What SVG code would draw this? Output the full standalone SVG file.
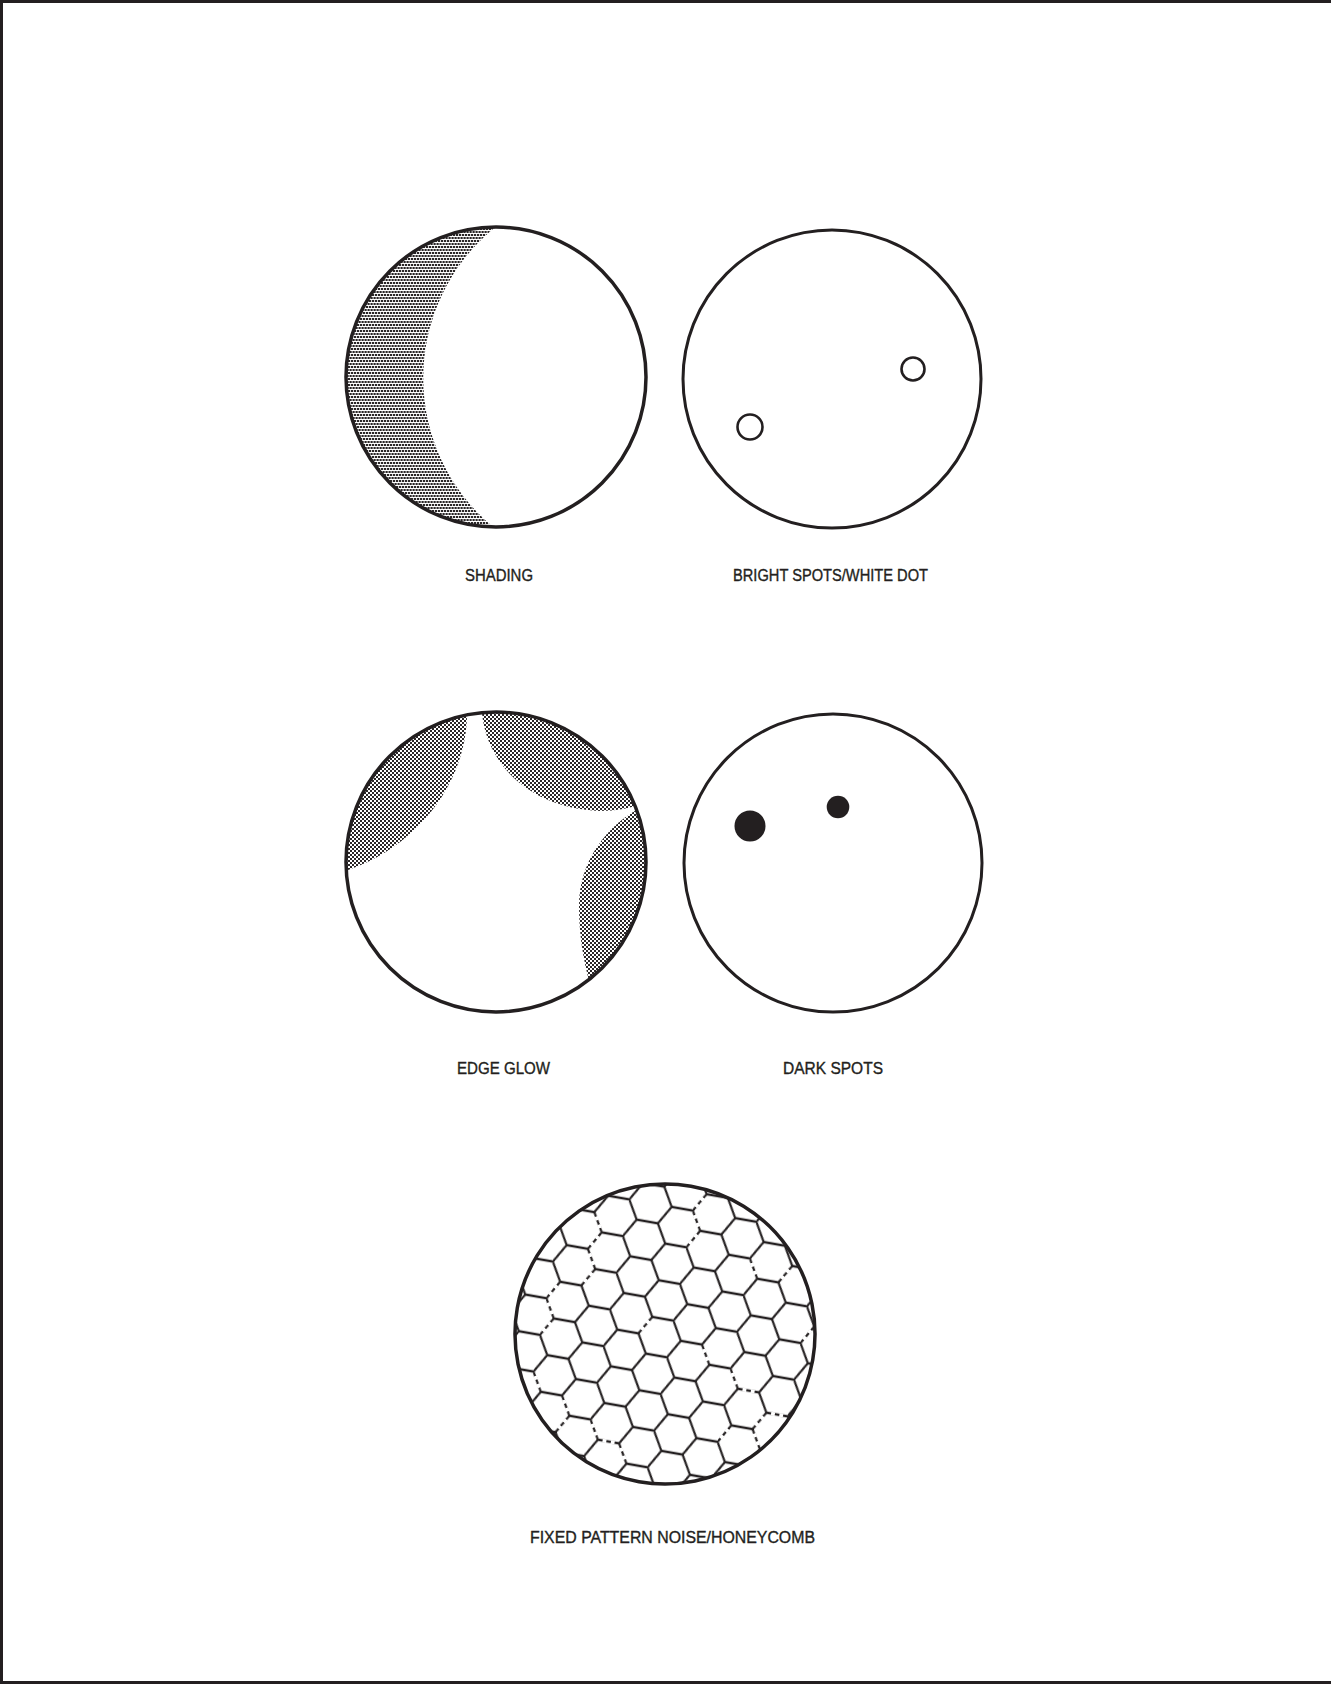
<svg xmlns="http://www.w3.org/2000/svg" width="1331" height="1684" viewBox="0 0 1331 1684">
<style>
.ring{fill:none;stroke:#231f20;stroke-width:3.5}
.spot{fill:none;stroke:#231f20;stroke-width:2.6}
.dark{fill:#231f20}
.lbl{font-family:"Liberation Sans Narrow","Liberation Sans",Arial,sans-serif;font-size:16px;fill:#231f20;stroke:#231f20;stroke-width:0.35}
.frame{stroke:#231f20;stroke-width:3;fill:none}
.dash{fill:none;stroke:#fff;stroke-width:3;stroke-dasharray:0 4 3.2 3.8 3.2 100}
</style>
<defs>
<pattern id="stip1" patternUnits="userSpaceOnUse" width="3" height="6">
<rect x="0" y="0" width="2.2" height="2" fill="#2a2627"/>
<rect x="1.5" y="3" width="2.2" height="2" fill="#2a2627"/>
<rect x="-1.5" y="3" width="2.2" height="2" fill="#2a2627"/>
</pattern>
<pattern id="stip2" patternUnits="userSpaceOnUse" width="4" height="4">
<rect x="0" y="0" width="2" height="2" fill="#2a2627"/>
<rect x="2" y="2" width="2" height="2" fill="#2a2627"/>
</pattern>
<pattern id="hexPat" patternUnits="userSpaceOnUse" width="54" height="31.177">
<path d="M0,15.588 L9,0 L27,0 L36,15.588 L27,31.177 L9,31.177 Z M36,15.588 L54,15.588" fill="none" stroke="#231f20" stroke-width="1.85"/>
</pattern>
<clipPath id="c1"><circle cx="496" cy="377" r="150"/></clipPath>
<clipPath id="c3"><circle cx="496" cy="862" r="150"/></clipPath>
<clipPath id="c5"><circle cx="0" cy="0" r="149.5"/></clipPath>
</defs>
<rect x="0" y="0" width="1331" height="1684" fill="#fff"/>
<g id="frame">
<path class="frame" d="M1.5,1684 L1.5,1.5 L1331,1.5 M0,1682.5 L1331,1682.5"/>
</g>

<g id="shading">
<path d="M493,229 A194 194 0 0 0 493,527 L493,545 L330,545 L330,210 L493,210 Z" fill="url(#stip1)" clip-path="url(#c1)"/>
<circle class="ring" cx="496" cy="377" r="150"/>
<text class="lbl" x="465" y="581" textLength="68" lengthAdjust="spacingAndGlyphs">SHADING</text>
</g>

<g id="bright-spots">
<circle class="ring" cx="832" cy="379" r="149" style="stroke-width:3"/>
<circle class="spot" cx="913" cy="369" r="11.5"/>
<circle class="spot" cx="750" cy="427" r="12.5"/>
<text class="lbl" x="733" y="581" textLength="195" lengthAdjust="spacingAndGlyphs">BRIGHT SPOTS/WHITE DOT</text>
</g>

<g id="edge-glow">
<g clip-path="url(#c3)" fill="url(#stip2)">
<path d="M467,700 L467,713 C467,780 420,845 348,870 L330,872 L330,700 Z"/>
<path d="M482,700 L482,713 C487,765 530,808 600,811 C618,811 632,808 650,801 L665,700 Z"/>
<path d="M650,803 C607,822 579,862 579,905 C579,935 583,958 590,985 L665,1000 L665,800 Z"/>
</g>
<circle class="ring" cx="496" cy="862" r="150"/>
<text class="lbl" x="457" y="1074" textLength="93" lengthAdjust="spacingAndGlyphs">EDGE GLOW</text>
</g>

<g id="dark-spots">
<circle class="ring" cx="833" cy="863" r="149" style="stroke-width:3"/>
<circle class="dark" cx="750" cy="826" r="15.5"/>
<circle class="dark" cx="838" cy="807" r="11.3"/>
<text class="lbl" x="783" y="1074" textLength="100" lengthAdjust="spacingAndGlyphs">DARK SPOTS</text>
</g>

<g id="honeycomb">
<g transform="translate(665,1334) rotate(10)">
<g clip-path="url(#c5)">
<g transform="translate(6,4) scale(1.1944)">
<rect x="-140" y="-140" width="280" height="280" fill="url(#hexPat)"/>
<path class="dash" d="M-81,-93.53 L-72,-77.94 M-72,-77.94 L-81,-62.35 M-81,-62.35 L-72,-46.77 M-72,-46.77 L-81,-31.18 M-81,62.35 L-72,77.94 M-72,77.94 L-81,93.53 M-54,77.94 L-45,93.53 M-45,93.53 L-27,93.53 M-27,93.53 L-18,109.12 M9,-124.71 L0,-109.12 M0,-109.12 L9,-93.53 M9,-93.53 L0,-77.94 M-99,-31.18 L-108,-15.59 M-108,-15.59 L-99,0 M-99,0 L-108,15.59 M-108,46.76 L-99,62.35 M-18,-15.59 L-27,0 M27,0 L36,15.59 M54,15.59 L63,31.18 M63,31.18 L81,31.18 M90,46.77 L81,62.35 M63,62.35 L54,77.94 M54,-77.94 L63,-62.36 M90,-77.94 L81,-62.35 M117,-31.18 L108,-15.59 M90,46.77 L108,46.77 M81,62.35 L90,77.94"/>
</g>
</g>
<circle class="ring" cx="0" cy="0" r="150"/>
</g>
<text class="lbl" x="530" y="1543" textLength="285" lengthAdjust="spacingAndGlyphs">FIXED PATTERN NOISE/HONEYCOMB</text>
</g>
</svg>
